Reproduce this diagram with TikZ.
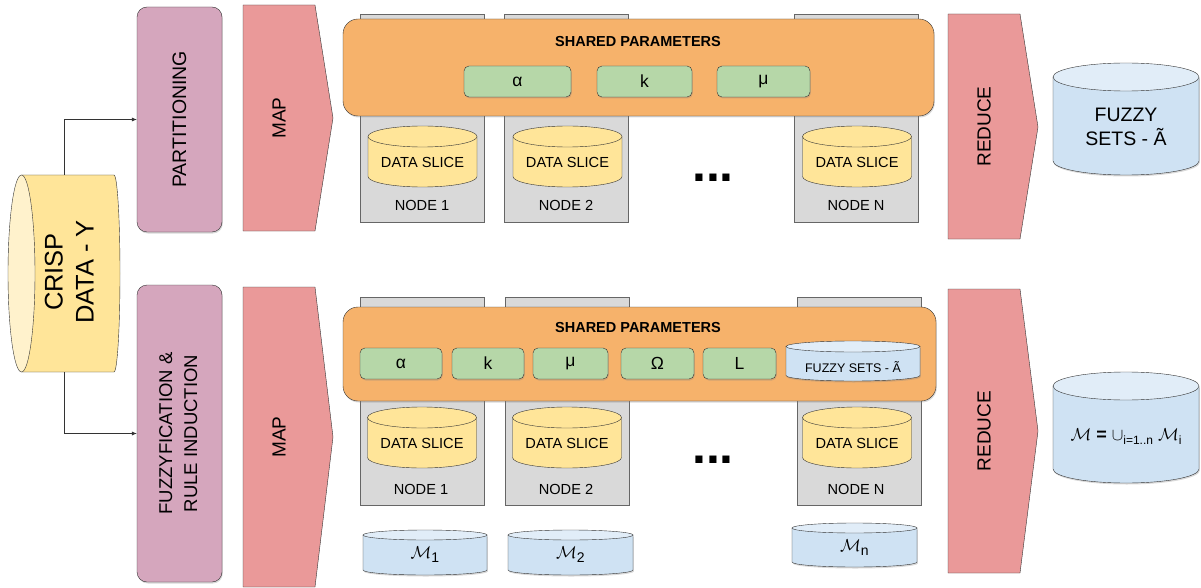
\documentclass[tikz,border=0pt]{standalone}
\usepackage{fontspec}
\setmainfont{Liberation Sans}
\usetikzlibrary{arrows.meta, calc, positioning, shadows}

\definecolor{partpink}{HTML}{D5A6BD}
\definecolor{mapred}{HTML}{EA9999}
\definecolor{sharedorange}{HTML}{F6B26B}
\definecolor{paramgreen}{HTML}{B6D7A8}
\definecolor{nodegray}{HTML}{D9D9D9}
\definecolor{sliceyellow}{HTML}{FFE599}
\definecolor{crisptop}{HTML}{FFF2CC}
\definecolor{setblue}{HTML}{CFE2F3}
\definecolor{settop}{HTML}{E1EDF8}

% upright can: [extra style]{centre x}{top y}{width}{height}{cap half height}{body}{cap}
\newcommand{\datacan}[8][]{%
  \path[draw=black!80, fill=#7, #1] ({#2-#4/2},{#3+#6}) -- ({#2-#4/2},{#3+#5-#6})
    arc[start angle=180, end angle=0, x radius={#4/2}, y radius=#6]
    -- ({#2+#4/2},{#3+#6}) -- cycle;
  \path[draw=black!80, fill=#8] (#2,{#3+#6}) ellipse[x radius={#4/2}, y radius=#6];
}
% lowered index as the drawing tool sets it
\newcommand{\lowidx}[2]{\raisebox{-4pt}{\fontsize{#1}{#1}\selectfont #2}}

\begin{document}
\begin{tikzpicture}[x=1pt, y=-1pt,
    softshadow/.style={drop shadow={shadow xshift=0.8pt, shadow yshift=-1.5pt, opacity=0.3}},
    stagebox/.style={draw=black!80, fill=partpink, rounded corners=10pt, softshadow,
        inner sep=0pt, minimum width=85pt},
    mapbody/.style={draw=black!80, fill=mapred},
    bigtext/.style={font=\fontsize{19}{23}\selectfont},
    worker/.style={draw=black!60, fill=nodegray, inner sep=0pt,
        minimum width=124pt, minimum height=208pt},
    workertitle/.style={font=\fontsize{14.6}{17}\selectfont},
    sharedbox/.style={draw=black!80, fill=sharedorange, rounded corners=15pt, softshadow, inner sep=0pt},
    sharedtitle/.style={font=\fontsize{14.5}{17}\selectfont\bfseries},
    param/.style={draw=black!80, fill=paramgreen, rounded corners=5pt, softshadow,
        inner sep=0pt, minimum height=31pt, font=\fontsize{17.5}{17}\selectfont},
    modeltext/.style={font=\fontsize{18}{18}\selectfont},
    dots/.style={font=\fontsize{50}{50}\selectfont\bfseries},
    arr/.style={draw=black!80, -{Latex[length=5pt,width=4pt]}}
]
\useasboundingbox (0,0) rectangle (1201,588);

% input data, a can lying on its side
\path[draw=black!80, fill=sliceyellow] (21.5,175) -- (114,175)
    arc[start angle=-90, end angle=90, x radius=6, y radius=98.5] -- (21.5,372) -- cycle;
\path[draw=black!80, fill=crisptop] (21.5,273.5) ellipse[x radius=13.5, y radius=98.5];
\node[font=\fontsize{25.5}{31}\selectfont] (crisp) at (72,272)
    {\rotatebox{90}{\begin{tabular}{@{}c@{}}CRISP\\DATA - Y\end{tabular}}};
\coordinate (crispn) at (64,175);
\coordinate (crisps) at (64,372);

% first stage and second stage
\node[stagebox, minimum height=225pt, font=\fontsize{19.5}{23}\selectfont] (part) at (179.5,119.5)
    {\rotatebox{90}{PARTITIONING}};
\node[stagebox, minimum height=297pt, font=\fontsize{18.5}{25}\selectfont] (fuzz) at (179.5,433.5)
    {\rotatebox{90}{\begin{tabular}{@{}c@{}}FUZZYFICATION \&\\RULE INDUCTION\end{tabular}}};

\draw[arr] (crispn) |- (part.west);
\draw[arr] (crisps) |- (fuzz.west);

% map steps
\path[mapbody] (243,5) -- (315,5) -- (333,118) -- (315,231) -- (243,231) -- cycle;
\node[bigtext] (map1) at (279,118) {\rotatebox{90}{MAP}};
\path[mapbody] (243,287) -- (315,287) -- (333,437) -- (315,587) -- (243,587) -- cycle;
\node[bigtext] (map2) at (279,437) {\rotatebox{90}{MAP}};

% worker nodes, top row
\node[worker] (wa1) at (422,118) {};
\node[worker] (wa2) at (566,118) {};
\node[worker] (wan) at (856,118) {};

% shared parameters, top row
\node[sharedbox, minimum width=591pt, minimum height=97pt] (sha) at (638.5,67.5) {};
\node[sharedtitle] (shatitle) at (638,42) {SHARED PARAMETERS};
\node[param, minimum width=107pt] (alphaa) at (517.5,81.5) {α};
\node[param, minimum width=95pt] (ka) at (644.5,81.5) {k};
\node[param, minimum width=93pt] (mua) at (763.5,81.5) {μ};

\datacan{422.5}{126}{109}{61}{10.5}{sliceyellow}{sliceyellow}
\datacan{567.5}{126}{109}{61}{10.5}{sliceyellow}{sliceyellow}
\datacan{857}{126}{109}{61}{10.5}{sliceyellow}{sliceyellow}
\node[workertitle] (slicea1) at (422.5,162) {DATA SLICE};
\node[workertitle] (slicea2) at (567.5,162) {DATA SLICE};
\node[workertitle] (slicean) at (857,162) {DATA SLICE};
\node[workertitle] (ta1) at (422,205) {NODE 1};
\node[workertitle] (ta2) at (566,205) {NODE 2};
\node[workertitle] (tan) at (856,205) {NODE N};
\node[dots] (dotsa) at (713,178) {...};

% reduce to fuzzy sets
\path[mapbody] (948,14) -- (1020,14) -- (1038,127) -- (1020,239) -- (948,239) -- cycle;
\node[bigtext] (reduce1) at (984,126.5) {\rotatebox{90}{REDUCE}};
\datacan[softshadow]{1126}{63}{146}{112}{14}{setblue}{settop}
\node[align=center, font=\fontsize{19.5}{24}\selectfont] (sets) at (1126,127) {FUZZY\\SETS - Ã};

% worker nodes, bottom row
\node[worker] (wb1) at (422.5,401) {};
\node[worker] (wb2) at (567.5,401) {};
\node[worker] (wbn) at (859,401) {};

% shared parameters, bottom row
\node[sharedbox, minimum width=593pt, minimum height=94pt] (shb) at (639.5,354) {};
\node[sharedtitle] (shbtitle) at (638,328) {SHARED PARAMETERS};
\node[param, minimum width=82pt] (alphab) at (401,363.5) {α};
\node[param, minimum width=72pt] (kb) at (488,363.5) {k};
\node[param, minimum width=75pt] (mub) at (570.5,363.5) {μ};
\node[param, minimum width=73pt] (omegab) at (657.5,363.5) {Ω};
\node[param, minimum width=73pt] (lb) at (739.5,363.5) {L};
\datacan[softshadow]{853}{341}{134}{40}{5.5}{setblue}{settop}
\node[font=\fontsize{12.5}{14}\selectfont] (setsb) at (853,367) {FUZZY SETS - Ã};

\datacan{422}{407}{109}{61}{10.5}{sliceyellow}{sliceyellow}
\datacan{567}{407}{109}{61}{10.5}{sliceyellow}{sliceyellow}
\datacan{857}{407}{109}{61}{10.5}{sliceyellow}{sliceyellow}
\node[workertitle] (sliceb1) at (422,443) {DATA SLICE};
\node[workertitle] (sliceb2) at (567,443) {DATA SLICE};
\node[workertitle] (slicebn) at (857,443) {DATA SLICE};
\node[workertitle] (tb1) at (421,489) {NODE 1};
\node[workertitle] (tb2) at (566,489) {NODE 2};
\node[workertitle] (tbn) at (856,489) {NODE N};
\node[dots] (dotsb) at (713,460) {...};

% partial models
\datacan[softshadow]{425}{530}{124}{45}{5}{setblue}{settop}
\datacan[softshadow]{570.5}{530}{125}{45}{5}{setblue}{settop}
\datacan[softshadow]{854.5}{523}{125}{44}{5}{setblue}{settop}
\node[modeltext] (m1) at (425,555) {$\mathcal{M}$\lowidx{14}{1}};
\node[modeltext] (m2) at (570.5,555) {$\mathcal{M}$\lowidx{14}{2}};
\node[modeltext] (mn) at (854.5,548) {$\mathcal{M}$\lowidx{14}{n}};

% reduce to the model
\path[mapbody] (948,289) -- (1020,289) -- (1038,431) -- (1020,573) -- (948,573) -- cycle;
\node[bigtext] (reduce2) at (984,431) {\rotatebox{90}{REDUCE}};
\datacan[softshadow]{1126}{372}{146}{111}{14}{setblue}{settop}
\node[modeltext] (model) at (1126,437)
    {$\mathcal{M}$ \textbf{=} $\cup$\lowidx{12}{i=1..n} $\mathcal{M}$\lowidx{12}{i}};
\end{tikzpicture}
\end{document}
